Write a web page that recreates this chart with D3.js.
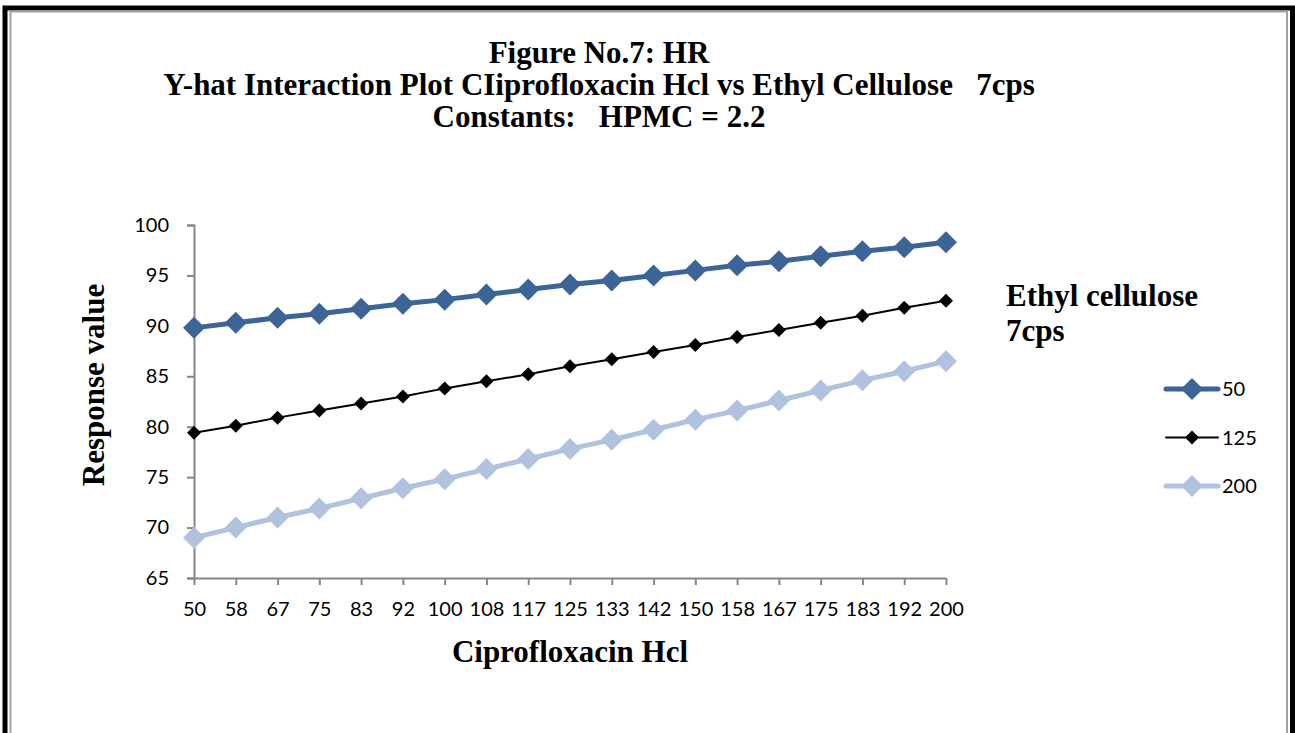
<!DOCTYPE html>
<html><head><meta charset="utf-8">
<script src="https://cdn.jsdelivr.net/npm/d3@7"></script>
<style>body{margin:0;background:#fff}svg{display:block}</style>
</head><body>
<svg id="c" width="1295" height="733"></svg>
<script>
const categories = ["50","58","67","75","83","92","100","108","117","125","133","142","150","158","167","175","183","192","200"];
const seriesNames = ["50","125","200"];
const s50  = [89.8,90.3,90.8,91.2,91.7,92.2,92.6,93.1,93.6,94.1,94.5,95.0,95.5,96.0,96.4,96.9,97.4,97.8,98.3];
const s125 = [79.4,80.1,80.9,81.6,82.3,83.0,83.8,84.5,85.2,86.0,86.7,87.4,88.1,88.9,89.6,90.3,91.0,91.8,92.5];
const s200 = [69.0,70.0,71.0,71.9,72.9,73.9,74.8,75.8,76.8,77.8,78.7,79.7,80.7,81.6,82.6,83.6,84.6,85.5,86.5];
const yTicks = [65,70,75,80,85,90,95,100];
const titleLines = ["Figure No.7: HR","Y-hat Interaction Plot CIiprofloxacin Hcl vs Ethyl Cellulose   7cps","Constants:   HPMC = 2.2"];

(function(){
const series = [
  {name: seriesNames[0], values: s50, color: "#3c6496", width: 5, r: 11},
  {name: seriesNames[1], values: s125, color: "#000000", width: 2, r: 7},
  {name: seriesNames[2], values: s200, color: "#b0c2de", width: 5, r: 11}
];

const svg = d3.select("#c");
const serif = "'Liberation Serif','Times New Roman',serif";
const sans = "Lato,'Open Sans',sans-serif";

// frame
svg.append("path").attr("d","M5,733 V8 H1292.5 V733").attr("fill","none").attr("stroke","#000").attr("stroke-width",5);
svg.append("path").attr("d","M10.5,733 V11.5 H1287 V733").attr("fill","none").attr("stroke","#a0a0a0").attr("stroke-width",2);

// title
svg.append("g").selectAll("text").data(titleLines).join("text")
  .attr("x",599).attr("y",(d,i)=>63+i*32).attr("text-anchor","middle")
  .attr("font-family",serif).attr("font-weight","bold").attr("font-size",31).attr("fill","#000")
  .style("white-space","pre").text(d=>d);

const pL=194, pR=946, pT=225, pB=578;
const x = d3.scalePoint().domain(categories).range([pL,pR]);
const y = d3.scaleLinear().domain([65,100]).range([pB,pT]);

const gx = svg.append("g").attr("transform",`translate(0,${pB})`)
  .call(d3.axisBottom(x).tickSize(7).tickPadding(17));
const gy = svg.append("g").attr("transform",`translate(${pL},0)`)
  .call(d3.axisLeft(y).tickValues(yTicks).tickSize(7).tickPadding(18));
[gx,gy].forEach(g=>{
  g.select(".domain").attr("stroke","#868686").attr("stroke-width",2);
  g.selectAll(".tick line").attr("stroke","#868686").attr("stroke-width",2);
  g.selectAll(".tick text").attr("font-family",sans).attr("font-size",20).attr("fill","#000");
});
gx.select(".domain").attr("d",`M${pL},0.5H${pR}`);

// axis titles
svg.append("text").attr("transform","translate(104,385) rotate(-90)").attr("text-anchor","middle")
  .attr("font-family",serif).attr("font-weight","bold").attr("font-size",31).text("Response value");
svg.append("text").attr("x",570).attr("y",662).attr("text-anchor","middle")
  .attr("font-family",serif).attr("font-weight","bold").attr("font-size",31).text("Ciprofloxacin Hcl");

const diamond = r => `M0,${-r}L${r},0L0,${r}L${-r},0Z`;
const line = d3.line().x((d,i)=>x(categories[i])).y(d=>y(d));

series.forEach(s=>{
  const g = svg.append("g");
  g.append("path").attr("d",line(s.values)).attr("fill","none").attr("stroke",s.color).attr("stroke-width",s.width).attr("stroke-linejoin","round");
  g.selectAll("path.m").data(s.values).join("path").attr("class","m")
    .attr("d",diamond(s.r)).attr("fill",s.color)
    .attr("transform",(d,i)=>`translate(${x(categories[i])},${y(d)})`);
});

// legend
svg.append("text").attr("x",1006).attr("y",306).attr("font-family",serif).attr("font-weight","bold").attr("font-size",31).text("Ethyl cellulose");
svg.append("text").attr("x",1006).attr("y",341).attr("font-family",serif).attr("font-weight","bold").attr("font-size",31).text("7cps");
const ly = d3.scalePoint().domain(seriesNames).range([389,486]);
series.forEach(s=>{
  const g = svg.append("g").attr("transform",`translate(0,${ly(s.name)})`);
  g.append("line").attr("x1",1166).attr("x2",1218).attr("stroke",s.color).attr("stroke-width",s.width).attr("stroke-linecap","round");
  g.append("path").attr("d",diamond(s.r)).attr("fill",s.color).attr("transform","translate(1192,0)");
  g.append("text").attr("x",1222).attr("y",0).attr("dy","0.35em").attr("font-family",sans).attr("font-size",20).text(s.name);
});
})();
</script>
</body></html>
